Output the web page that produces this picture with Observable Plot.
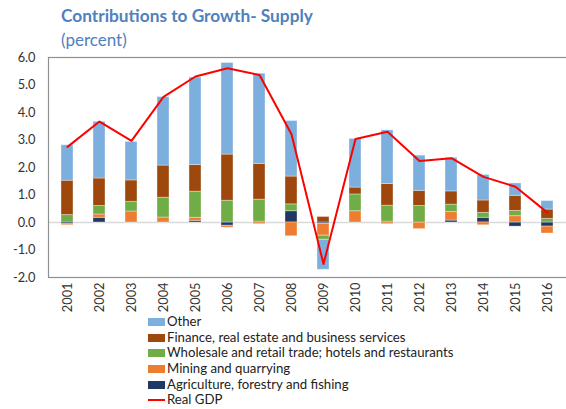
<!DOCTYPE html>
<html>
<head>
<meta charset="utf-8">
<script src="https://cdn.jsdelivr.net/npm/d3@7"></script>
<script src="https://cdn.jsdelivr.net/npm/@observablehq/plot@0.6"></script>
<style>
  html, body { margin: 0; padding: 0; background: #fff; }
  #wrap { position: relative; width: 566px; height: 409px; overflow: hidden; font-family: Lato, "Open Sans", sans-serif; }
  #title { position: absolute; left: 61px; top: 5px; font-size: 17.3px; font-weight: bold; color: #4f81bd; white-space: nowrap; }
  #subtitle { position: absolute; left: 61px; top: 29px; font-size: 17px; color: #4f81bd; white-space: nowrap; }
  #chart { position: absolute; left: 0; top: 0; }
  #legend { position: absolute; left: 148px; top: 314px; font-size: 13.2px; color: #222; }
  .row { height: 15.7px; line-height: 15.7px; display: flex; align-items: center; white-space: nowrap; }
  .sw { width: 17px; height: 8px; margin-right: 2px; }
  .ln { width: 17px; height: 2px; margin-right: 2px; }
</style>
</head>
<body>
<div id="wrap">
  <div id="title">Contributions to Growth- Supply</div>
  <div id="subtitle">(percent)</div>
  <div id="chart"></div>
  <div id="legend"></div>
</div>
<script>
const years = ["2001","2002","2003","2004","2005","2006","2007","2008","2009","2010","2011","2012","2013","2014","2015","2016"];
const agriculture = [-0.06, 0.17, 0.00, 0.00, 0.06, -0.12, 0.03, 0.41, -0.05, 0.00, 0.03, 0.00, 0.07, 0.17, -0.15, -0.15];
const mining      = [-0.04, 0.12, 0.40, 0.18, 0.11, -0.07, -0.06, -0.50, -0.43, 0.41, -0.06, -0.24, 0.31, -0.10, 0.23, -0.25];
const trade       = [0.27, 0.31, 0.35, 0.72, 0.95, 0.79, 0.80, 0.25, -0.15, 0.61, 0.58, 0.60, 0.27, 0.18, 0.19, 0.13];
const finance     = [1.25, 1.00, 0.78, 1.17, 0.97, 1.68, 1.30, 1.01, 0.20, 0.25, 0.79, 0.55, 0.48, 0.45, 0.55, 0.34];
const other       = [1.29, 2.06, 1.40, 2.49, 3.18, 3.33, 3.28, 2.02, -1.09, 1.77, 1.95, 1.28, 1.22, 0.93, 0.45, 0.31];
const realGDP     = [2.75, 3.67, 2.97, 4.57, 5.31, 5.61, 5.36, 3.21, -1.51, 3.04, 3.30, 2.24, 2.34, 1.66, 1.30, 0.36];
const yTicks = [-2, -1, 0, 1, 2, 3, 4, 5, 6];

const seriesNames = [
  "Agriculture, forestry and fishing",
  "Mining and quarrying",
  "Wholesale and retail trade; hotels and restaurants",
  "Finance, real estate and business services",
  "Other"
];
const seriesValues = [agriculture, mining, trade, finance, other];
const seriesColors = ["#1f3864", "#ed7d31", "#70ad47", "#9e480e", "#7cafdd"];
const lineName = "Real GDP";
const lineColor = "#ff0000";

const barData = [];
seriesNames.forEach((name, i) => {
  years.forEach((yr, j) => barData.push({year: yr, series: name, value: seriesValues[i][j]}));
});
const lineData = years.map((yr, j) => ({year: yr, value: realGDP[j]}));

const chart = Plot.plot({
  width: 566,
  height: 409,
  marginLeft: 48,
  marginRight: 0,
  marginTop: 57,
  marginBottom: 132,
  style: {fontFamily: "Lato, 'Open Sans', sans-serif", fontSize: "12.8px", color: "#333", background: "transparent", overflow: "visible"},
  x: {domain: years, paddingInner: 0.61, paddingOuter: 0.305, label: null, tickSize: 0, tickPadding: 5, tickRotate: -90},
  y: {domain: [-2, 6], ticks: yTicks, tickFormat: d => d.toFixed(1), label: null, tickSize: 0, tickPadding: 13},
  color: {domain: seriesNames, range: seriesColors},
  marks: [
    Plot.ruleY([0], {stroke: "#d9d9d9", strokeWidth: 1.5}),
    Plot.barY(barData, Plot.stackY({order: seriesNames, x: "year", y: "value", z: "series", fill: "series", stroke: "#ffffff", strokeOpacity: 0.35, strokeWidth: 1})),
    Plot.line(lineData, {x: "year", y: "value", stroke: lineColor, strokeWidth: 2}),
    Plot.frame({stroke: "#8f8f8f", strokeWidth: 1.2, insetRight: -4})
  ]
});
document.getElementById("chart").appendChild(chart);

const legend = document.getElementById("legend");
const items = seriesNames.map((n, i) => ({name: n, color: seriesColors[i], kind: "sw"})).reverse();
items.push({name: lineName, color: lineColor, kind: "ln"});
items.forEach(it => {
  const row = document.createElement("div");
  row.className = "row";
  const s = document.createElement("div");
  s.className = it.kind;
  s.style.background = it.color;
  const t = document.createElement("span");
  t.textContent = it.name;
  row.appendChild(s);
  row.appendChild(t);
  legend.appendChild(row);
});
</script>
</body>
</html>
